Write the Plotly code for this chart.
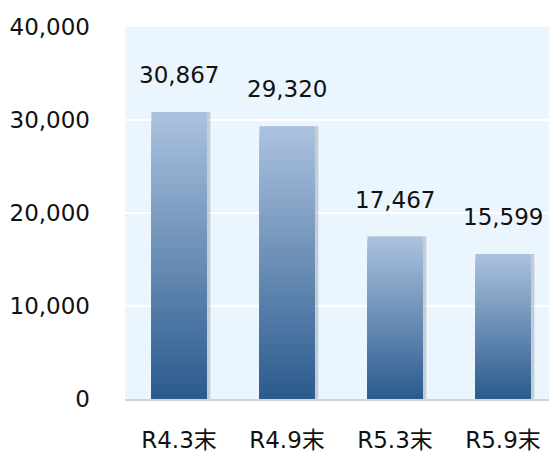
import plotly.graph_objects as go

# ── data ───────────────────────────────────────────────────────────────────
categories = ["R4.3末", "R4.9末", "R5.3末", "R5.9末"]
values = [30867, 29320, 17467, 15599]
y_ticks = [0, 10000, 20000, 30000, 40000]

# ── style ──────────────────────────────────────────────────────────────────
_FONT = "DejaVu Sans, Verdana, Noto Sans CJK JP, sans-serif"
_TEXT = "#111111"
_BG = "#EAF5FD"
_TOP = (170, 193, 222)   # light top of bar
_BOT = (44, 92, 142)     # dark bottom of bar
N_SEG = 40
BAR_W = 0.51
PAGE_PAD = 8             # browser default body margin around the plot div


def _mix(t):
    r, g, b = (round(_TOP[i] + (_BOT[i] - _TOP[i]) * t) for i in range(3))
    return f"rgb({r},{g},{b})"


fig = go.Figure()

# soft shadow to the right of each bar
fig.add_trace(go.Bar(
    x=categories, y=values, width=BAR_W, offset=-BAR_W / 2 + 0.035,
    marker=dict(color="rgba(90,100,115,0.28)", line=dict(width=0)),
    hoverinfo="skip", showlegend=False,
))

# bar body: overlaid bars, each shorter one darker, so the fill fades
# from light (top) to dark (bottom) without seams
for k in range(N_SEG):
    frac = 1 - k / N_SEG
    fig.add_trace(go.Bar(
        x=categories, y=[v * frac for v in values], width=BAR_W,
        offset=-BAR_W / 2,
        marker=dict(color=_mix(k / (N_SEG - 1)), line=dict(width=0)),
        hoverinfo="skip", showlegend=False,
    ))

for c, v in zip(categories, values):
    fig.add_annotation(
        x=c, y=v, text=f"{v:,}", showarrow=False, yshift=37,
        font=dict(size=23, color=_TEXT, family=_FONT),
    )

fig.update_layout(
    width=557 - PAGE_PAD, height=453 - PAGE_PAD,
    margin=dict(l=125 - PAGE_PAD, r=0, t=27 - PAGE_PAD, b=54, autoexpand=False),
    paper_bgcolor="white",
    plot_bgcolor=_BG,
    barmode="overlay",
    font=dict(family=_FONT, size=23, color=_TEXT),
    showlegend=False,
)
fig.update_yaxes(
    range=[0, 40000], tickvals=y_ticks, ticktext=[f"{t:,}" for t in y_ticks],
    showgrid=True, gridcolor="white", gridwidth=2, zeroline=False,
    ticklabelstandoff=34, showline=False, automargin=False,
    tickfont=dict(size=23, color=_TEXT),
)
fig.update_xaxes(
    showgrid=False, showline=True, linecolor="#D4D4D4", linewidth=2,
    ticks="", ticklabelstandoff=19, automargin=False,
    tickfont=dict(size=23, color=_TEXT),
)

fig.write_html("out.html")
